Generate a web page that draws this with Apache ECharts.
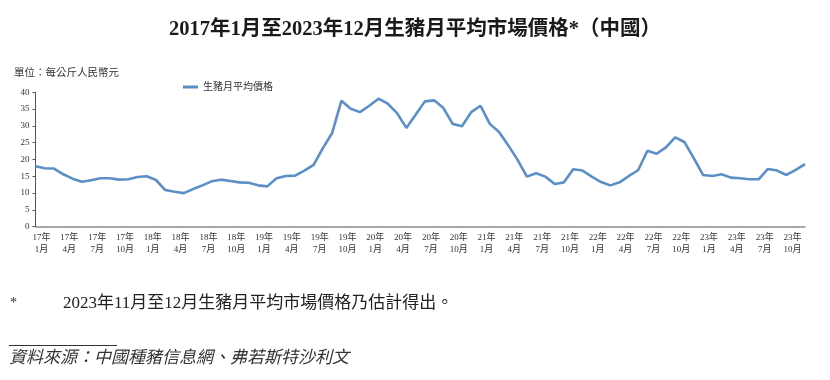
<!DOCTYPE html>
<html><head><meta charset="utf-8">
<script src="https://cdn.jsdelivr.net/npm/echarts@6/dist/echarts.min.js"></script>
<style>html,body{margin:0;padding:0;background:#fff}#c{width:830px;height:380px}</style>
</head><body><div id="c"></div>
<script>
const years = ['17','18','19','20','21','22','23'];
const months = [1,2,3,4,5,6,7,8,9,10,11,12];
const prices = [
  18.0,17.4,17.3,15.6,14.3,13.4,13.8,14.4,14.4,14.0,14.1,14.8,
  15.0,13.9,10.9,10.4,10.0,11.2,12.3,13.5,14.0,13.6,13.2,13.1,
  12.3,12.0,14.4,15.1,15.2,16.7,18.4,23.4,27.9,37.5,35.1,34.1,
  36.0,38.1,36.6,33.8,29.4,33.3,37.3,37.6,35.3,30.6,29.9,34.1,
  36.0,30.6,28.2,24.2,19.9,14.9,15.9,14.9,12.7,13.2,17.1,16.7,
  14.9,13.3,12.3,13.2,15.1,16.8,22.6,21.7,23.6,26.6,25.2,20.4,
  15.4,15.1,15.6,14.6,14.4,14.1,14.1,17.2,16.7,15.4,16.9,18.6
];
const yTicks = [0,5,10,15,20,25,30,35,40];
const categories = [];
years.forEach(y => months.forEach(m => categories.push(y + '年\n' + m + '月')));

const serif = "'Liberation Serif','Noto Sans CJK TC',serif";
const chart = echarts.init(document.getElementById('c'), null, {renderer:'canvas'});
chart.setOption({
  animation:false,
  backgroundColor:'#fff',
  title:{
    text:'2017年1月至2023年12月生豬月平均市場價格*（中國）',
    left:'center', top:14,
    textStyle:{fontFamily:serif, fontWeight:'bold', fontSize:20.5, color:'#1a1a1a'}
  },
  legend:{
    data:['生豬月平均價格'], left:178, top:77,
    itemWidth:15, itemHeight:3, itemGap:6,
    icon:'rect',
    textStyle:{fontFamily:serif, fontSize:10, color:'#333'}
  },
  grid:{left:35.5, right:25, top:92.3, bottom:153.3},
  xAxis:{
    type:'category', data:categories, boundaryGap:false,
    axisLine:{lineStyle:{color:'#8c8c8c', width:1.5}},
    axisTick:{show:false},
    axisLabel:{
      interval:function(i){ return i % 3 === 0; },
      showMinLabel:true, hideOverlap:false,
      fontFamily:serif, fontSize:9, color:'#333', lineHeight:12, margin:5, padding:[0,-6,0,6]
    }
  },
  yAxis:{
    type:'value', min:yTicks[0], max:yTicks[yTicks.length-1], interval:5,
    splitLine:{show:false},
    axisLine:{show:true, lineStyle:{color:'#555', width:1}},
    axisTick:{show:true, length:3, lineStyle:{color:'#555'}},
    axisLabel:{fontFamily:serif, fontSize:9, color:'#333', margin:6}
  },
  series:[{
    name:'生豬月平均價格', type:'line', data:prices,
    showSymbol:false, symbol:'none',
    lineStyle:{color:'#5b8fc6', width:2.6},
    itemStyle:{color:'#5b8fc6'}
  }],
  graphic:[
    {type:'text', left:14, top:68, style:{text:'單位：每公斤人民幣元', font:"10.5px 'Liberation Serif','Noto Sans CJK TC',serif", fill:'#333'}},
    {type:'text', left:10, top:296, style:{text:'*', font:"14px 'Liberation Serif','Noto Sans CJK TC',serif", fill:'#333'}},
    {type:'text', left:63, top:295, style:{text:'2023年11月至12月生豬月平均市場價格乃估計得出。', font:"17px 'Liberation Serif','Noto Sans CJK TC',serif", fill:'#222'}},
    {type:'line', shape:{x1:9, y1:345.5, x2:117, y2:345.5}, style:{stroke:'#333', lineWidth:1}},
    {type:'text', left:9, top:350, style:{text:'資料來源：中國種豬信息網、弗若斯特沙利文', font:"italic 17px 'Liberation Serif','Noto Sans CJK TC',serif", fill:'#333'}}
  ]
});
</script></body></html>
